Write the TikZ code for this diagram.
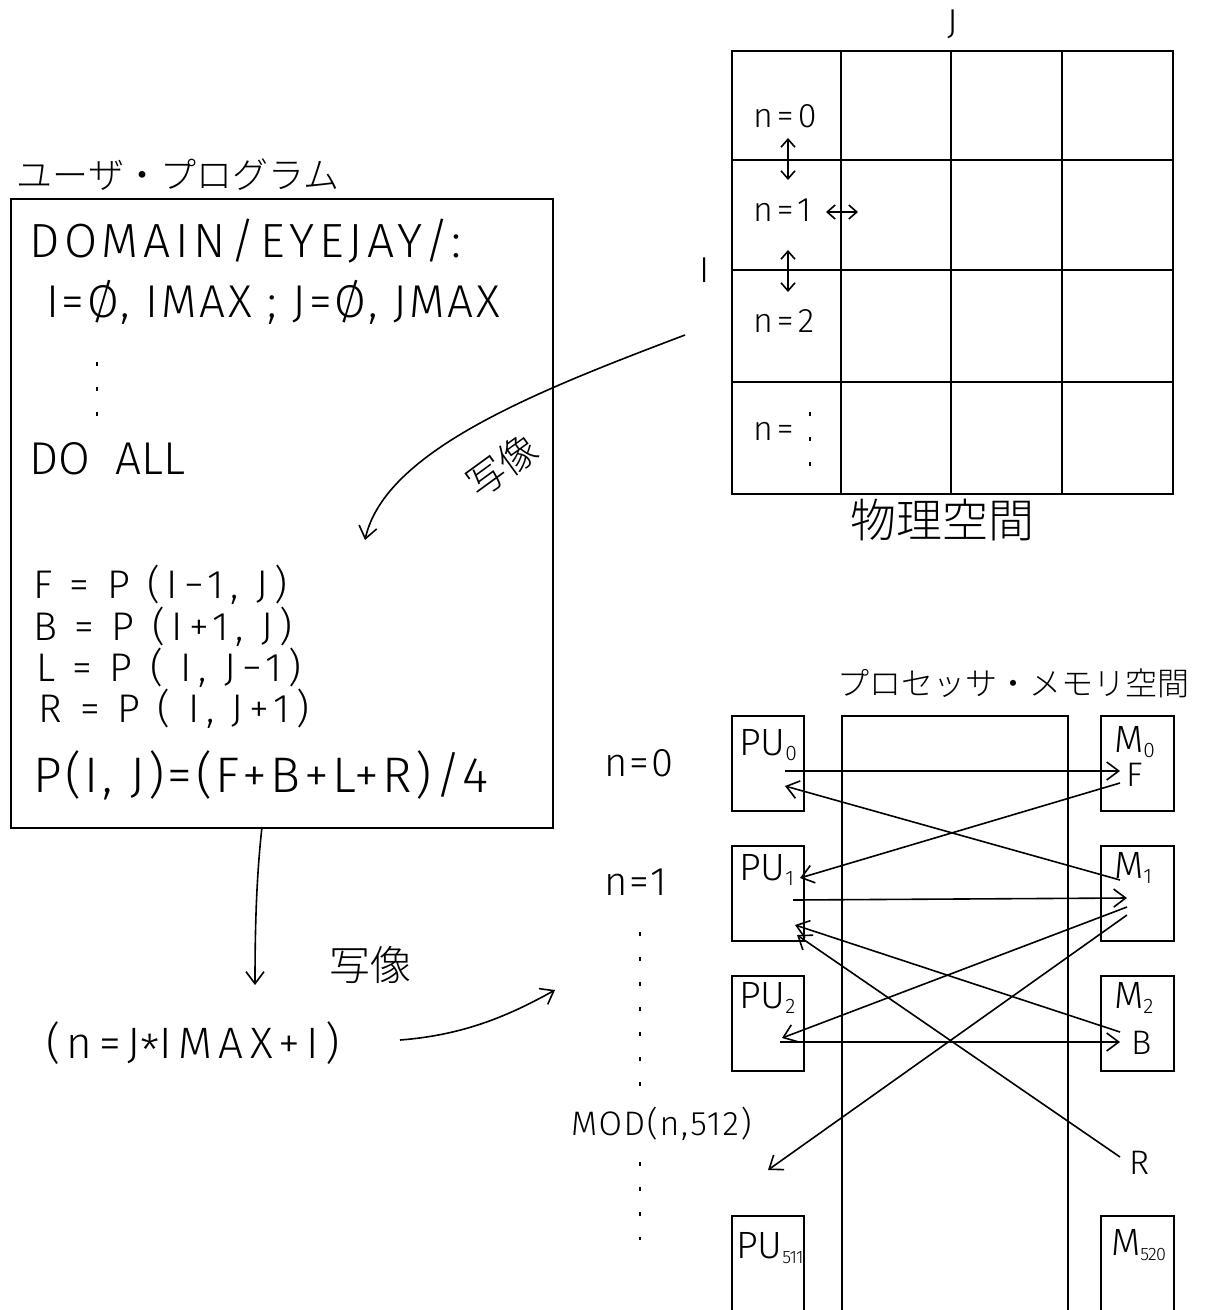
\documentclass[tikz,border=0pt]{standalone}
\usepackage{fontspec}
\setmainfont{Fira Sans Light}
\newfontfamily\jp{Noto Sans CJK JP Light}
\usetikzlibrary{arrows.meta}
\newcommand\fsz[1]{\fontsize{#1pt}{#1pt}\selectfont}
\newcommand\sbs[1]{\raisebox{-0.3ex}{\fsz{10.5}#1}}
\newcommand\sbsm[1]{\raisebox{-0.3ex}{\fsz{9}\addfontfeature{LetterSpace=-4}#1}}
\newcommand\wide[1]{\addfontfeature{LetterSpace=#1}}
\begin{document}
\begin{tikzpicture}[x=0.5pt,y=-0.5pt, line width=1pt,
  box/.style={draw, line width=1pt, inner sep=0pt, anchor=north west},
  txt/.style={inner sep=0pt, anchor=base west},
  arr/.style={-{Straight Barb[length=6pt,width=9pt]}, line width=0.8pt},
  darr/.style={{Straight Barb[length=4pt,width=7pt]}-{Straight Barb[length=4pt,width=7pt]}, line width=0.8pt},
  dots/.style={line width=1.3pt, dash pattern=on 2pt off 10.5pt}]
\useasboundingbox (0,0) rectangle (1205,1310);

% ---------- physical space grid ----------
\node[box, minimum width=220.5pt, minimum height=221.5pt] (grid) at (731,50) {};
\foreach \x in {841,951,1062} \draw (\x,50) -- (\x,493);
\foreach \y in {160,270,382} \draw (731,\y) -- (1172,\y);
\node[font=\fsz{18}] (lJ) at (953,24) {J};
\node[font=\fsz{18}] (lI) at (705,270) {I};
\node[txt,font=\fsz{17}\wide{12}] (g0) at (752,128) {n=0};
\node[txt,font=\fsz{17}\wide{12}] (g1) at (752,222) {n=1};
\node[txt,font=\fsz{17}\wide{12}] (g2) at (752,333) {n=2};
\node[txt,font=\fsz{17}\wide{12}] (g3) at (752,440) {n=};
\coordinate (v1a) at (788,138); \coordinate (v1b) at (788,180);
\coordinate (v2a) at (788,250); \coordinate (v2b) at (788,292);
\coordinate (h1a) at (826,212); \coordinate (h1b) at (858,212);
\draw[darr] (v1a) -- (v1b);
\draw[darr] (v2a) -- (v2b);
\draw[darr] (h1a) -- (h1b);
\draw[dots] (810,412) -- (810,472);
\node[font=\jp\fsz{23}] (phys) at (942,520) {物理空間};

% ---------- user program ----------
\node[font=\jp\fsz{18}] (progt) at (178,175) {ユーザ・プログラム};
\node[box, minimum width=271pt, minimum height=314.5pt] (prog) at (10,198) {};
\node[txt,font=\fsz{24}\wide{10}] (c1) at (28,258) {DOMAIN/EYEJAY/:};
\node[txt,font=\fsz{23}\wide{6}] (c2) at (45,318) {I=Ø, IMAX ; J=Ø, JMAX};
\draw[dots] (97,362) -- (97,432);
\node[txt,font=\fsz{23}] (c3) at (28,474) {DO\ \ ALL};
\node[txt,font=\fsz{20}\wide{16}] (c4) at (32,598) {F = P (I−1, J)};
\node[txt,font=\fsz{20}\wide{16}] (c5) at (32,640) {B = P (I+1, J)};
\node[txt,font=\fsz{20}\wide{16}] (c6) at (35,681) {L = P ( I, J−1)};
\node[txt,font=\fsz{20}\wide{16}] (c7) at (38,722) {R = P ( I, J+1)};
\node[txt,font=\fsz{25}\wide{7}] (c8) at (32,792) {P(I, J)=(F+B+L+R)/4};

% ---------- mapping arrows ----------
\coordinate (m1s) at (685,335); \coordinate (m1e) at (365,540);
\draw[arr] (m1s) .. controls (540,390) and (385,450) .. (m1e);
\node[font=\jp\fsz{19}, rotate=36] (m1l) at (502,466) {写像};
\coordinate (m2s) at (262,827); \coordinate (m2e) at (255,985);
\draw[arr] (m2s) .. controls (256,880) and (255,935) .. (m2e);
\node[font=\jp\fsz{20.5}] (m2l) at (370,965) {写像};
\node[txt,font=\fsz{22}\wide{15}] (form) at (45,1058) {(n=J\raisebox{-0.35ex}{*}IMAX+I)};
\coordinate (m3s) at (400,1040); \coordinate (m3e) at (555,990);
\draw[arr] (m3s) .. controls (465,1035) and (510,1015) .. (m3e);

% ---------- processor / memory space ----------
\node[font=\jp\fsz{16}] (pmt) at (1013,683) {プロセッサ・メモリ空間};
\node[box, minimum width=36pt, minimum height=47.5pt] (pu0) at (731,715) {};
\node[box, minimum width=36pt, minimum height=47.5pt] (pu1) at (731,845) {};
\node[box, minimum width=36pt, minimum height=47.5pt] (pu2) at (731,975) {};
\node[box, minimum width=36pt, minimum height=47.5pt] (pu511) at (731,1215) {};
\node[box, minimum width=113pt, minimum height=297.5pt] (net) at (841,715) {};
\node[box, minimum width=36.5pt, minimum height=47.5pt] (mm0) at (1100,715) {};
\node[box, minimum width=36.5pt, minimum height=47.5pt] (mm1) at (1100,845) {};
\node[box, minimum width=36.5pt, minimum height=47.5pt] (mm2) at (1100,975) {};
\node[box, minimum width=36.5pt, minimum height=47.5pt] (mm520) at (1100,1215) {};

\node[txt,font=\fsz{19}] (pu0l) at (738,755) {PU\sbs{0}};
\node[txt,font=\fsz{19}] (pu1l) at (738,880) {PU\sbs{1}};
\node[txt,font=\fsz{19}] (pu2l) at (738,1008) {PU\sbs{2}};
\node[txt,font=\fsz{19}] (pu511l) at (735,1258) {PU\sbsm{511}};
\node[txt,font=\fsz{19}] (mm0l) at (1113,752) {M\sbs{0}};
\node[txt,font=\fsz{19}] (mm1l) at (1113,878) {M\sbs{1}};
\node[txt,font=\fsz{19}] (mm2l) at (1113,1008) {M\sbs{2}};
\node[txt,font=\fsz{19}] (mm520l) at (1110,1255) {M\sbsm{520}};

\node[txt,font=\fsz{20}\wide{5}] (n0) at (603,776) {n=0};
\node[txt,font=\fsz{20}\wide{5}] (n1) at (603,895) {n=1};
\draw[dots] (640,932) -- (640,1092);
\node[txt,font=\fsz{17}\wide{5}] (mod) at (570,1135) {MOD(n,512)};
\draw[dots] (640,1162) -- (640,1240);

\node[txt,font=\fsz{17}] (lF) at (1125,786) {F};
\node[txt,font=\fsz{17}] (lB) at (1130,1054) {B};
\node[txt,font=\fsz{17}] (lR) at (1128,1174) {R};

\coordinate (a1s) at (785,771);  \coordinate (a1e) at (1120,771);
\coordinate (a2s) at (1120,880); \coordinate (a2e) at (785,786);
\coordinate (a3s) at (1120,783); \coordinate (a3e) at (800,878);
\coordinate (a4s) at (793,900);  \coordinate (a4e) at (1127,898);
\coordinate (a5s) at (1127,907); \coordinate (a5e) at (782,1038);
\coordinate (a6s) at (1127,915); \coordinate (a6e) at (768,1170);
\coordinate (a7s) at (780,1042); \coordinate (a7e) at (1120,1042);
\coordinate (a8s) at (1120,1032); \coordinate (a8e) at (795,925);
\coordinate (a9s) at (1120,1157); \coordinate (a9e) at (797,935);
\foreach \i in {1,...,9} \draw[arr] (a\i s) -- (a\i e);
\end{tikzpicture}
\end{document}
